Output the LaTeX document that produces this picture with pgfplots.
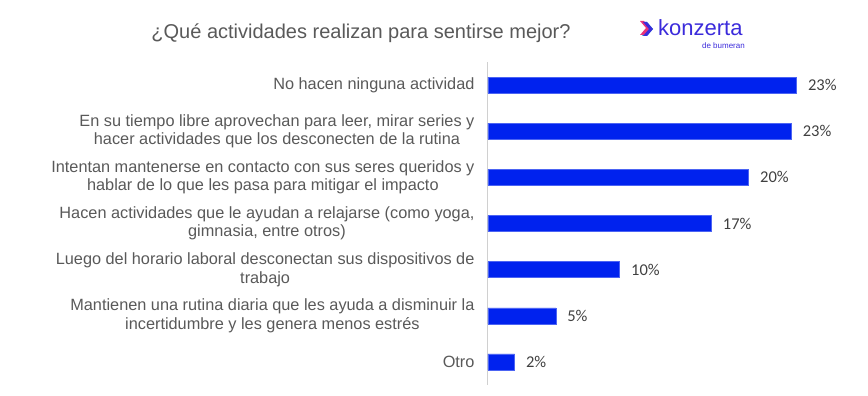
\documentclass[border=0pt]{standalone}
\usepackage{pgfplots}
\pgfplotsset{compat=1.18}
\usepackage{fontspec}
\setmainfont{Liberation Sans}
\newfontfamily\carlito{Carlito}
\definecolor{barblue}{HTML}{0022EE}
\definecolor{txtgray}{HTML}{595959}
\definecolor{lblgray}{HTML}{404040}
\definecolor{axgray}{HTML}{D0D0D0}
\definecolor{logoblue}{HTML}{3B2BDB}
\definecolor{logopink}{HTML}{E8337A}
\definecolor{logocyan}{HTML}{2EC4D6}
\begin{document}
\begin{tikzpicture}[x=1pt,y=1pt]
\path[use as bounding box] (0,0) rectangle (868,396);
\begin{axis}[
  at={(488pt,11pt)}, anchor=south west,
  scale only axis,
  width=372.4pt, height=323pt,
  xmin=0, xmax=28,
  ymin=-0.5, ymax=6.5,
  y dir=reverse,
  xbar, bar width=16pt,
  bar shift=0pt,
  axis x line=none,
  axis y line*=left,
  y axis line style={draw=axgray, line width=1pt},
  ytick={0,...,6},
  major tick length=0pt,
  yticklabels={
    No hacen ninguna actividad,
    {En su tiempo libre aprovechan para leer, mirar series y\\hacer actividades que los desconecten de la rutina},
    {Intentan mantenerse en contacto con sus seres queridos y\\hablar de lo que les pasa para mitigar el impacto},
    {Hacen actividades que le ayudan a relajarse (como yoga,\\gimnasia, entre otros)},
    {Luego del horario laboral desconectan sus dispositivos de\\trabajo},
    {Mantienen una rutina diaria que les ayuda a disminuir la\\incertidumbre y les genera menos estrés},
    Otro},
  yticklabel style={align=center, font=\fontsize{16.3}{18.5}\selectfont, text=txtgray, xshift=-10pt},
  nodes near coords={\pgfmathprintnumber[fixed,precision=0,assume math mode=true]{\pgfplotspointmeta}\%},
  nodes near coords style={anchor=west, font=\carlito\fontsize{16.5}{18}\selectfont, text=lblgray, xshift=8pt},
  clip=false,
]
\addplot[fill=barblue, draw=barblue!70!white, line width=0.4pt] coordinates {
  (23.2,0) (22.8,1) (19.6,2) (16.8,3) (9.9,4) (5.1,5) (2.0,6)
};
\end{axis}
\node[text=txtgray, font=\fontsize{20}{22}\selectfont] at (361,363) {¿Qué actividades realizan para sentirse mejor?};
% logo
\fill[logocyan] (642,374) -- (647,374) -- (653,367) -- (647,360) -- (642,360) -- (648,367) -- cycle;
\fill[logopink] (640,375) -- (644,375) -- (650,368) -- (644,361) -- (640,361) -- (646,368) -- cycle;
\fill[logoblue] (643,374) -- (647,374) -- (653,367) -- (647,360) -- (643,360) -- (649,367) -- cycle;
\node[anchor=base west, text=logoblue, font=\fontsize{22}{22}\selectfont, inner sep=0pt] at (658,360) {konzerta};
\node[anchor=base east, text=logoblue, font=\fontsize{8}{8}\selectfont, inner sep=0pt] at (745,347) {de bumeran};
\end{tikzpicture}
\end{document}
